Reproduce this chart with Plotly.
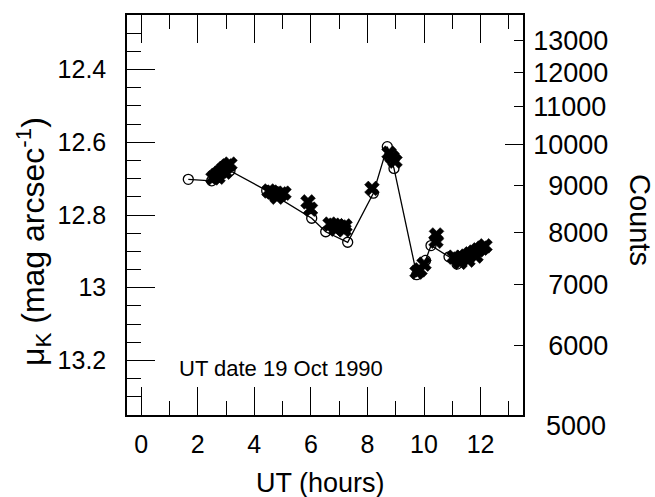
import numpy as np
import plotly.graph_objects as go

# Surface brightness measurements (open circles, joined in time order)
circle_ut = [1.667, 2.494, 3.141, 4.439, 6.030, 6.525, 7.302, 8.208, 8.702,
             8.939, 9.742, 10.053, 10.247, 10.884, 11.167]
circle_mu = [12.702, 12.706, 12.678, 12.733, 12.809, 12.846, 12.875, 12.740,
             12.612, 12.672, 12.964, 12.925, 12.884, 12.915, 12.935]

# Individual frame measurements (crosses)
cross_ut = [2.540, 2.646, 2.753, 2.841, 2.929, 3.035, 3.141, 2.717, 2.965,
            4.626, 4.732, 4.838, 4.944, 5.050, 4.803, 4.520,
            5.899, 5.987,
            6.677, 6.818, 6.960, 7.066, 7.207, 6.889, 7.172,
            8.161,
            8.763, 8.869, 8.975,
            9.752, 9.858, 10.000,
            10.442, 10.424,
            11.060, 11.202, 11.343, 11.485, 11.626, 11.768, 11.909, 12.051,
            12.157, 11.273, 11.555, 11.838]
cross_mu = [12.698, 12.691, 12.685, 12.679, 12.672, 12.665, 12.660, 12.696, 12.682,
            12.737, 12.742, 12.746, 12.742, 12.740, 12.751, 12.734,
            12.764, 12.784,
            12.825, 12.828, 12.830, 12.833, 12.830, 12.839, 12.841,
            12.727,
            12.630, 12.641, 12.652,
            12.957, 12.951, 12.935,
            12.855, 12.872,
            12.916, 12.921, 12.918, 12.913, 12.907, 12.902, 12.896, 12.891,
            12.885, 12.930, 12.924, 12.913]

x_ticks = [0, 2, 4, 6, 8, 10, 12]
mu_ticks = [12.4, 12.6, 12.8, 13.0, 13.2]
mu_labels = ["12.4", "12.6", "12.8", "13", "13.2"]
count_ticks = [6000, 7000, 8000, 9000, 10000, 11000, 12000, 13000]
count_low_label = 5000

# photometric zero point linking counts to magnitudes
ZP = 22.605
MU_RANGE = [13.35, 12.25]
log_range = [(ZP - MU_RANGE[0]) / 2.5, (ZP - MU_RANGE[1]) / 2.5]

FONT = "Liberation Sans, Arial, Helvetica, sans-serif"
FIG = "\u2007"


def pad(v):
    s = str(v)
    return FIG * (5 - len(s)) + s


fig = go.Figure()

fig.add_trace(go.Scatter(
    x=circle_ut, y=circle_mu, mode="lines+markers",
    line=dict(color="black", width=1.3),
    marker=dict(symbol="circle-open", size=10, color="black",
                line=dict(width=1.3, color="black")),
    showlegend=False, hoverinfo="skip"))

fig.add_trace(go.Scatter(
    x=cross_ut, y=cross_mu, mode="markers",
    marker=dict(symbol="x", size=13, color="black",
                line=dict(width=0.6, color="black")),
    showlegend=False, hoverinfo="skip"))

# invisible traces to activate the count axes
fig.add_trace(go.Scatter(x=[None], y=[None], yaxis="y2", showlegend=False))
fig.add_trace(go.Scatter(x=[None], y=[None], yaxis="y3", showlegend=False))

W, H = 655, 497
L, R, T, B = 127, 132, 15, 82
plot_w = W - L - R
plot_h = H - T - B

fig.update_layout(
    width=W, height=H,
    margin=dict(l=L, r=R, t=T, b=B),
    paper_bgcolor="white", plot_bgcolor="white",
    font=dict(family=FONT, color="black"),
    xaxis=dict(
        range=[-0.5, 13.5], tickvals=x_ticks, ticks="inside", ticklen=28,
        tickwidth=1.3, tickcolor="black", showline=True, linecolor="black",
        linewidth=1.5, mirror="ticks", showgrid=False, zeroline=False,
        tickfont=dict(size=25), ticklabelstandoff=6, automargin=False,
        minor=dict(dtick=1, tick0=0, ticks="inside", ticklen=14,
                   tickwidth=1.3, tickcolor="black", showgrid=False),
    ),
    yaxis=dict(
        range=MU_RANGE, tickvals=mu_ticks, ticktext=mu_labels,
        ticks="inside", ticklen=28, tickwidth=1.3, tickcolor="black",
        showline=True, linecolor="black", linewidth=1.5, mirror=False,
        showgrid=False, zeroline=False, tickfont=dict(size=25),
        ticklabelstandoff=14, automargin=False,
        minor=dict(dtick=0.05, tick0=12.25, ticks="inside", ticklen=14,
                   tickwidth=1.3, tickcolor="black", showgrid=False),
    ),
    yaxis2=dict(
        type="log", range=log_range, overlaying="y", side="right",
        tickvals=count_ticks, ticktext=[pad(c) for c in count_ticks],
        ticks="inside", ticklen=9, tickwidth=1.3, tickcolor="black",
        showline=True, linecolor="black", linewidth=1.5,
        showgrid=False, zeroline=False, tickfont=dict(size=27),
        ticklabelstandoff=3, automargin=False,
    ),
    yaxis3=dict(
        type="log", range=log_range, overlaying="y", side="right",
        tickvals=[10000], ticks="inside", ticklen=18, tickwidth=1.3,
        tickcolor="black", showticklabels=False, showline=False,
        showgrid=False, zeroline=False, automargin=False,
    ),
)

lo_frac = (np.log10(count_low_label) - log_range[0]) / (log_range[1] - log_range[0])

fig.add_annotation(
    text=pad(count_low_label), xref="paper", yref="paper",
    x=1 + 6 / plot_w, y=lo_frac - 8 / plot_h, xanchor="left", yanchor="middle",
    showarrow=False, font=dict(size=27, family=FONT))

fig.add_annotation(
    text="UT (hours)", xref="paper", yref="paper",
    x=(320 - L) / plot_w, y=-(483 - (H - B)) / plot_h,
    xanchor="center", yanchor="middle", showarrow=False,
    font=dict(size=27, family=FONT))

fig.add_annotation(
    text="\u03bc<sub>K</sub> (mag arcsec<sup>-1</sup>)", textangle=-90,
    xref="paper", yref="paper", x=(33 - L) / plot_w,
    y=((H - B) - 242) / plot_h,
    xanchor="center", yanchor="middle", showarrow=False,
    font=dict(size=32, family=FONT))

fig.add_annotation(
    text="Counts", textangle=90, xref="paper", yref="paper",
    x=(640 - L) / plot_w, y=((H - B) - 220) / plot_h,
    xanchor="center", yanchor="middle", showarrow=False,
    font=dict(size=29, family=FONT))

fig.add_annotation(
    text="UT date 19 Oct 1990", xref="x", yref="y", x=1.268, y=13.221,
    xanchor="left", yanchor="middle", showarrow=False,
    font=dict(size=22, family=FONT))

fig.write_html("out.html")
